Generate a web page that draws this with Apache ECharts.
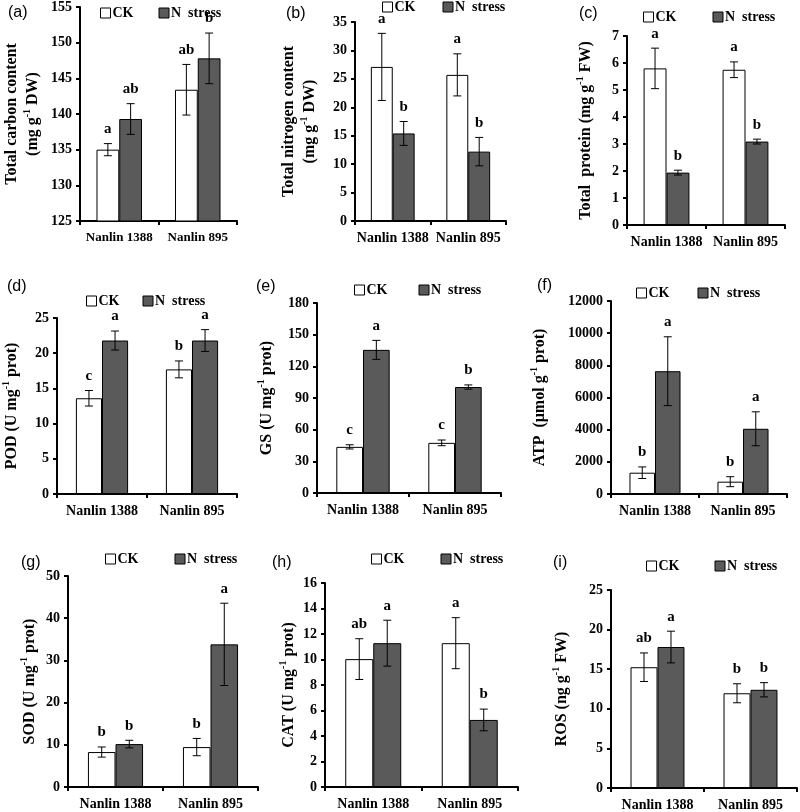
<!DOCTYPE html>
<html>
<head>
<meta charset="utf-8">
<title>N stress panels</title>
<script src="https://cdn.jsdelivr.net/npm/echarts@6/dist/echarts.min.js"></script>
<style>
    html, body { margin: 0; padding: 0; background: #fff; }
    #main { width: 800px; height: 812px; }
</style>
</head>
<body>
<div id="main"></div>
<script>
// 两个品种
const categories = ['Nanlin 1388', 'Nanlin 895']

// (a) 总碳
const carbonCK = [135.0, 143.4]
const carbonCKErr = [0.85, 3.55]
const carbonNS = [139.3, 147.8]
const carbonNSErr = [2.15, 3.55]
const carbonCKLetters = ['a', 'ab']
const carbonNSLetters = ['ab', 'b']

// (b) 总氮
const nitrogenCK = [27.1, 25.7]
const nitrogenCKErr = [5.9, 3.7]
const nitrogenNS = [15.4, 12.2]
const nitrogenNSErr = [2.1, 2.5]
const nitrogenCKLetters = ['a', 'a']
const nitrogenNSLetters = ['b', 'b']

// (c) 总蛋白
const proteinCK = [5.80, 5.75]
const proteinCKErr = [0.75, 0.29]
const proteinNS = [1.94, 3.09]
const proteinNSErr = [0.09, 0.09]
const proteinCKLetters = ['a', 'a']
const proteinNSLetters = ['b', 'b']

// (d) POD
const podCK = [13.6, 17.7]
const podCKErr = [1.1, 1.2]
const podNS = [21.8, 21.8]
const podNSErr = [1.35, 1.55]
const podCKLetters = ['c', 'b']
const podNSLetters = ['a', 'a']

// (e) GS
const gsCK = [43.7, 47.5]
const gsCKErr = [2.0, 2.7]
const gsNS = [135.6, 100.4]
const gsNSErr = [9.0, 2.0]
const gsCKLetters = ['c', 'c']
const gsNSLetters = ['a', 'b']

// (f) ATP
const atpCK = [1324, 766]
const atpCKErr = [360, 310]
const atpNS = [7635, 4055]
const atpNSErr = [2140, 1055]
const atpCKLetters = ['b', 'b']
const atpNSLetters = ['a', 'a']

// (g) SOD
const sodCK = [8.28, 9.46]
const sodCKErr = [1.2, 2.05]
const sodNS = [10.17, 33.8]
const sodNSErr = [0.9, 9.75]
const sodCKLetters = ['b', 'b']
const sodNSLetters = ['b', 'a']

// (h) CAT
const catCK = [10.03, 11.28]
const catCKErr = [1.6, 2.0]
const catNS = [11.28, 5.26]
const catNSErr = [1.8, 0.85]
const catCKLetters = ['ab', 'a']
const catNSLetters = ['a', 'b']

// (i) ROS
const rosCK = [15.25, 11.96]
const rosCKErr = [1.8, 1.2]
const rosNS = [17.8, 12.4]
const rosNSErr = [2.0, 0.9]
const rosCKLetters = ['ab', 'b']
const rosNSLetters = ['a', 'b']

const SERIF = '"Liberation Serif", "Times New Roman", serif'
const GAP = 0.42

// 每个小图的数据和布局
const panels = [
    { tag: '(a)', name: 'Total carbon content\n(mg g{sup|-1} DW)', min: 125, max: 155, interval: 5,
      ck: carbonCK, ckErr: carbonCKErr, ns: carbonNS, nsErr: carbonNSErr, ckL: carbonCKLetters, nsL: carbonNSLetters,
      grid: { left: 77, top: 7, width: 160, height: 214 }, nameGap: 37, catSize: 13,
      legend: { left: 100, top: 6, gap: 25 }, tagPos: { left: 8, top: 5 } },
    { tag: '(b)', name: 'Total nitrogen content\n(mg g{sup|-1} DW)', min: 0, max: 35, interval: 5,
      ck: nitrogenCK, ckErr: nitrogenCKErr, ns: nitrogenNS, nsErr: nitrogenNSErr, ckL: nitrogenCKLetters, nsL: nitrogenNSLetters,
      grid: { left: 355, top: 22, width: 151, height: 199 }, nameGap: 35, catSize: 14,
      legend: { left: 382, top: 0, gap: 27 }, tagPos: { left: 286, top: 6 } },
    { tag: '(c)', name: 'Total  protein (mg g{sup|-1} FW)', min: 0, max: 7, interval: 1,
      ck: proteinCK, ckErr: proteinCKErr, ns: proteinNS, nsErr: proteinNSErr, ckL: proteinCKLetters, nsL: proteinNSLetters,
      grid: { left: 627, top: 36, width: 158, height: 189 }, nameGap: 31, catSize: 14,
      legend: { left: 643, top: 10, gap: 36 }, tagPos: { left: 579, top: 6 } },
    { tag: '(d)', name: 'POD (U mg{sup|-1} prot)', min: 0, max: 25, interval: 5,
      ck: podCK, ckErr: podCKErr, ns: podNS, nsErr: podNSErr, ckL: podCKLetters, nsL: podNSLetters,
      grid: { left: 52, top: 318, width: 185, height: 176 }, nameGap: 35, catSize: 14,
      legend: { left: 86, top: 294, gap: 23 }, tagPos: { left: 7, top: 279 } },
    { tag: '(e)', name: 'GS (U mg{sup|-1} prot)', min: 0, max: 180, interval: 30,
      ck: gsCK, ckErr: gsCKErr, ns: gsNS, nsErr: gsNSErr, ckL: gsCKLetters, nsL: gsNSLetters,
      grid: { left: 317, top: 303, width: 184, height: 190 }, nameGap: 40, catSize: 14,
      legend: { left: 354, top: 283, gap: 31 }, tagPos: { left: 256, top: 279 } },
    { tag: '(f)', name: 'ATP  (μmol g{sup|-1} prot)', min: 0, max: 12000, interval: 2000,
      ck: atpCK, ckErr: atpCKErr, ns: atpNS, nsErr: atpNSErr, ckL: atpCKLetters, nsL: atpNSLetters,
      grid: { left: 611, top: 301, width: 176, height: 193 }, nameGap: 61, catSize: 14,
      legend: { left: 636, top: 286, gap: 28 }, tagPos: { left: 537, top: 278 } },
    { tag: '(g)', name: 'SOD (U mg{sup|-1} prot)', min: 0, max: 50, interval: 10,
      ck: sodCK, ckErr: sodCKErr, ns: sodNS, nsErr: sodNSErr, ckL: sodCKLetters, nsL: sodNSLetters,
      grid: { left: 68, top: 576, width: 190, height: 211 }, nameGap: 28, catSize: 14,
      legend: { left: 105, top: 552, gap: 36 }, tagPos: { left: 21, top: 555 } },
    { tag: '(h)', name: 'CAT (U mg{sup|-1} prot)', min: 0, max: 16, interval: 2,
      ck: catCK, ckErr: catCKErr, ns: catNS, nsErr: catNSErr, ckL: catCKLetters, nsL: catNSLetters,
      grid: { left: 325, top: 583, width: 193, height: 204 }, nameGap: 25, catSize: 14,
      legend: { left: 371, top: 552, gap: 36 }, tagPos: { left: 272, top: 555 } },
    { tag: '(i)', name: 'ROS (ng g{sup|-1} FW)', min: 0, max: 25, interval: 5,
      ck: rosCK, ckErr: rosCKErr, ns: rosNS, nsErr: rosNSErr, ckL: rosCKLetters, nsL: rosNSLetters,
      grid: { left: 611, top: 590, width: 186, height: 198 }, nameGap: 39, catSize: 14,
      legend: { left: 646, top: 559, gap: 35 }, tagPos: { left: 553, top: 555 } }
]

// 误差线 + 显著性字母
function errorRenderer(side, letters) {
    return function (params, api) {
        const cat = api.value(0)
        const mean = api.value(1)
        const err = api.value(2)
        const band = api.size([1, 0])[0]
        const barW = band * (1 - GAP) / 2
        const x = api.coord([cat, mean])[0] + side * barW / 2
        const hi = api.coord([cat, mean + err])[1]
        const lo = api.coord([cat, mean - err])[1]
        const cap = 4
        const style = { stroke: '#000', lineWidth: 1 }
        return {
            type: 'group',
            children: [
                { type: 'line', shape: { x1: x, y1: hi, x2: x, y2: lo }, style },
                { type: 'line', shape: { x1: x - cap, y1: hi, x2: x + cap, y2: hi }, style },
                { type: 'line', shape: { x1: x - cap, y1: lo, x2: x + cap, y2: lo }, style },
                {
                    type: 'text', x: x, y: hi - 7,
                    style: {
                        text: letters[params.dataIndex], align: 'center', verticalAlign: 'bottom',
                        font: 'bold 15px ' + SERIF, fill: '#000'
                    }
                }
            ]
        }
    }
}

const axisLineStyle = { color: '#000', width: 2 }
const labelStyle = { color: '#000', fontFamily: SERIF, fontWeight: 'bold', fontSize: 14 }

const grid = [], xAxis = [], yAxis = [], series = [], legend = [], title = []

panels.forEach((p, i) => {
    grid.push(Object.assign({ containLabel: false }, p.grid))

    xAxis.push({
        type: 'category', gridIndex: i, data: categories,
        axisLine: { lineStyle: axisLineStyle },
        axisTick: { show: true, length: 4, lineStyle: axisLineStyle },
        axisLabel: Object.assign({}, labelStyle, { fontSize: p.catSize, margin: 10, interval: 0, hideOverlap: false })
    })

    yAxis.push({
        type: 'value', gridIndex: i, min: p.min, max: p.max, interval: p.interval,
        splitLine: { show: false },
        axisLine: { show: true, lineStyle: axisLineStyle },
        axisTick: { show: true, length: 4, lineStyle: axisLineStyle },
        axisLabel: Object.assign({}, labelStyle, { margin: 8, formatter: v => String(v) }),
        name: p.name, nameLocation: 'middle', nameGap: p.nameGap,
        nameTextStyle: {
            color: '#000', fontFamily: SERIF, fontWeight: 'bold', fontSize: 16, lineHeight: 21,
            rich: { sup: { fontFamily: SERIF, fontWeight: 'bold', fontSize: 10, verticalAlign: 'top', color: '#000' } }
        }
    })

    series.push({
        name: 'CK', type: 'bar', xAxisIndex: i, yAxisIndex: i, data: p.ck,
        barGap: '0%', barCategoryGap: (GAP * 100) + '%',
        itemStyle: { color: '#ffffff', borderColor: '#000', borderWidth: 1 }
    })
    series.push({
        name: 'N  stress', type: 'bar', xAxisIndex: i, yAxisIndex: i, data: p.ns,
        barGap: '0%', barCategoryGap: (GAP * 100) + '%',
        itemStyle: { color: '#5a5a5a', borderColor: '#000', borderWidth: 1 }
    })
    series.push({
        name: 'errCK' + i, type: 'custom', xAxisIndex: i, yAxisIndex: i, z: 5,
        encode: { x: 0, y: 1 }, clip: false,
        data: p.ck.map((v, k) => [k, v, p.ckErr[k]]),
        renderItem: errorRenderer(-1, p.ckL)
    })
    series.push({
        name: 'errNS' + i, type: 'custom', xAxisIndex: i, yAxisIndex: i, z: 5,
        encode: { x: 0, y: 1 }, clip: false,
        data: p.ns.map((v, k) => [k, v, p.nsErr[k]]),
        renderItem: errorRenderer(1, p.nsL)
    })

    legend.push({
        data: ['CK', 'N  stress'], left: p.legend.left, top: p.legend.top,
        itemGap: p.legend.gap, itemWidth: 10, itemHeight: 10, padding: 0,
        icon: 'rect', selectedMode: false,
        itemStyle: { borderColor: '#000', borderWidth: 1 },
        textStyle: { color: '#000', fontFamily: SERIF, fontWeight: 'bold', fontSize: 14, padding: [0, 0, 0, -3] }
    })

    title.push({
        text: p.tag, left: p.tagPos.left, top: p.tagPos.top, padding: 0,
        textStyle: { color: '#000', fontFamily: '"Liberation Sans", Arial, sans-serif', fontWeight: 'normal', fontSize: 16 }
    })
})

const myChart = echarts.init(document.getElementById('main'))
myChart.setOption({
    animation: false,
    backgroundColor: '#fff',
    title, legend, grid, xAxis, yAxis, series
})

window.addEventListener('resize', () => {
    myChart.resize()
})
</script>
</body>
</html>
